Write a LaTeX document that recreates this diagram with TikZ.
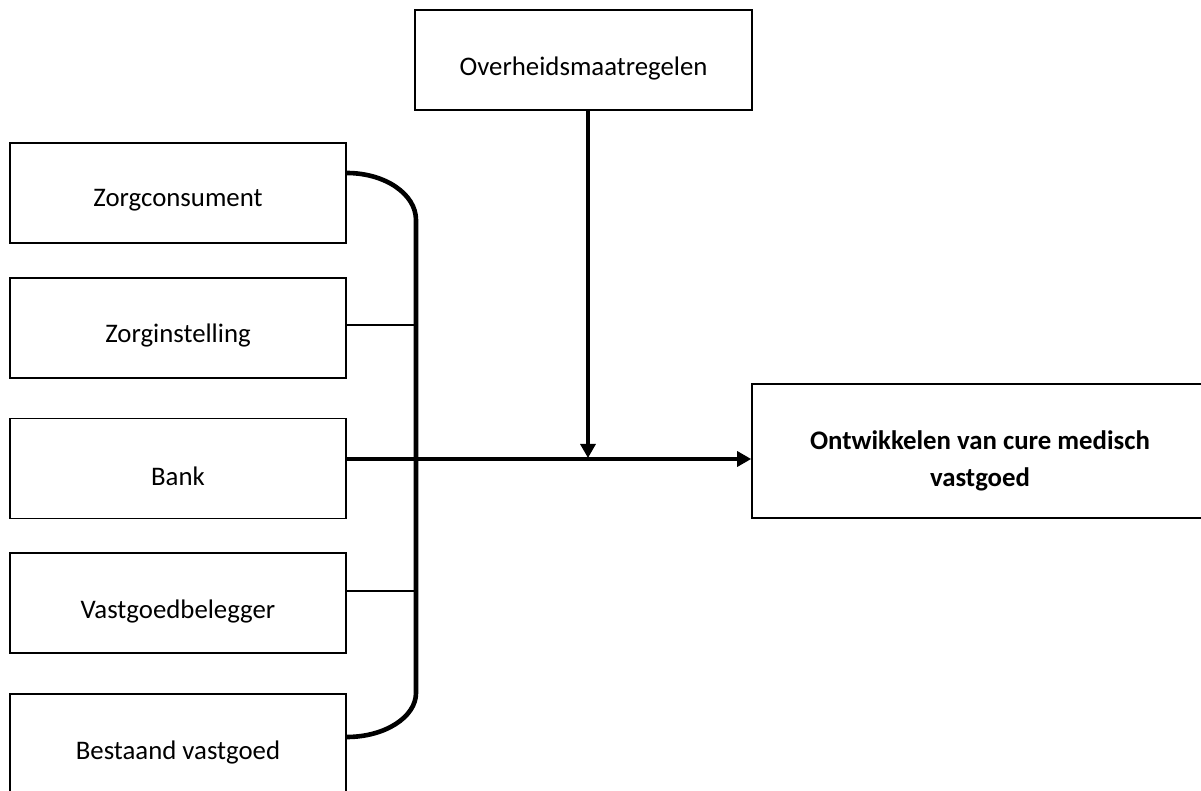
\documentclass[tikz,border=0pt]{standalone}
\usepackage{fontspec}
\setmainfont{Carlito}
\usetikzlibrary{arrows.meta}
\newcommand{\lowtext}[2]{\raisebox{-#1}[\height][\depth]{#2}}
\begin{document}
\begin{tikzpicture}[x=0.5pt,y=-0.5pt,
  box/.style={draw=black,line width=0.8pt,fill=white,inner sep=0pt,minimum height=50pt,
    font=\fontsize{13.4}{16}\selectfont},
  leftbox/.style={box,minimum width=168pt},
  bus/.style={line width=2.3pt},
  conn/.style={line width=1.35pt},
  arr/.style={line width=1.6pt,-{Triangle[length=7pt,width=7.5pt]}}]
\useasboundingbox (0,0) rectangle (1201,791);
\clip (0,0) rectangle (1201,791);
\fill[white] (0,0) rectangle (1201,791);
% boxes
\node[box,minimum width=168.5pt] (over) at (583.5,60) {\lowtext{4.5pt}{Overheidsmaatregelen}};
\node[leftbox] (zc) at (178,193) {\lowtext{3.5pt}{Zorgconsument}};
\node[leftbox] (zi) at (178,328) {\lowtext{4pt}{Zorginstelling}};
\node[leftbox] (bank) at (178,468.5) {\lowtext{4pt}{Bank}};
\node[leftbox] (vb) at (178,603) {\lowtext{4pt}{Vastgoedbelegger}};
\node[leftbox] (bv) at (178,744) {\lowtext{4pt}{Bestaand vastgoed}};
\node[box,minimum width=228pt,minimum height=67pt,
  font=\fontsize{13.4}{18.5}\selectfont\bfseries] (ont) at (980,451)
  {\lowtext{5pt}{\begin{tabular}{@{}c@{}}Ontwikkelen van cure medisch\\vastgoed\end{tabular}}};
% coordinates
\coordinate (ta) at (346,173);
\coordinate (tb) at (346,737);
\coordinate (j1) at (416,325);
\coordinate (j3) at (416,591);
\coordinate (mid) at (588,459);
\coordinate (midtop) at (588,458);
% bus brace
\draw[bus] (zc.east |- ta) .. controls (385,173) and (416,194) .. (416,220)
  -- (416,693) .. controls (416,717) and (385,737) .. (bv.east |- tb);
% connectors
\draw[conn] (zi.east |- j1) -- (j1);
\draw[conn] (vb.east |- j3) -- (j3);
\draw[arr] (bank.east |- mid) -- (ont.west |- mid);
\draw[arr] (over.south -| mid) -- (midtop);
\end{tikzpicture}
\end{document}
